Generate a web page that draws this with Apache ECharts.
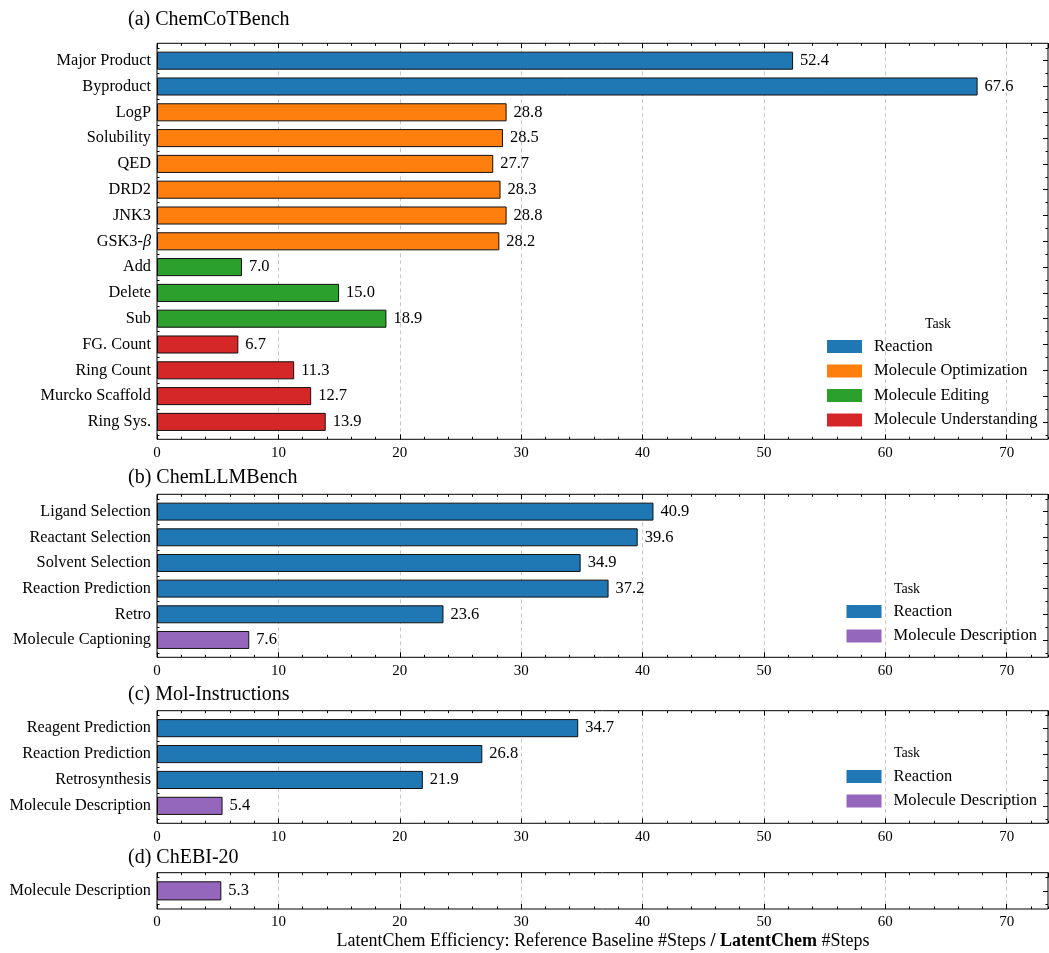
<!DOCTYPE html>
<html>
<head>
<meta charset="utf-8">
<script src="https://cdn.jsdelivr.net/npm/echarts@6/dist/echarts.min.js"></script>
<style>
  html, body { margin: 0; padding: 0; background: #fff; }
  #chart { width: 1049px; height: 953px; }
</style>
</head>
<body>
<div id="chart"></div>
<script>
// ---- data -------------------------------------------------------------
const xTickLabels = [0, 10, 20, 30, 40, 50, 60, 70];
const xMax = 73.4;

const chemcotCategories = ['Major Product', 'Byproduct', 'LogP', 'Solubility', 'QED', 'DRD2', 'JNK3', 'GSK3-β',
  'Add', 'Delete', 'Sub', 'FG. Count', 'Ring Count', 'Murcko Scaffold', 'Ring Sys.'];
const chemcotValues = [52.4, 67.6, 28.8, 28.5, 27.7, 28.3, 28.8, 28.2, 7.0, 15.0, 18.9, 6.7, 11.3, 12.7, 13.9];
const chemcotTasks = ['Reaction', 'Reaction',
  'Molecule Optimization', 'Molecule Optimization', 'Molecule Optimization',
  'Molecule Optimization', 'Molecule Optimization', 'Molecule Optimization',
  'Molecule Editing', 'Molecule Editing', 'Molecule Editing',
  'Molecule Understanding', 'Molecule Understanding', 'Molecule Understanding', 'Molecule Understanding'];

const chemllmCategories = ['Ligand Selection', 'Reactant Selection', 'Solvent Selection', 'Reaction Prediction', 'Retro', 'Molecule Captioning'];
const chemllmValues = [40.9, 39.6, 34.9, 37.2, 23.6, 7.6];
const chemllmTasks = ['Reaction', 'Reaction', 'Reaction', 'Reaction', 'Reaction', 'Molecule Description'];

const molinstCategories = ['Reagent Prediction', 'Reaction Prediction', 'Retrosynthesis', 'Molecule Description'];
const molinstValues = [34.7, 26.8, 21.9, 5.4];
const molinstTasks = ['Reaction', 'Reaction', 'Reaction', 'Molecule Description'];

const chebiCategories = ['Molecule Description'];
const chebiValues = [5.3];
const chebiTasks = ['Molecule Description'];

const taskOrder = ['Reaction', 'Molecule Optimization', 'Molecule Editing', 'Molecule Understanding', 'Molecule Description'];

// ---- styling ----------------------------------------------------------
const FONT = '"Liberation Serif", "Times New Roman", "DejaVu Serif", serif';
const taskColors = {
  'Reaction': '#1f77b4',
  'Molecule Optimization': '#ff7f0e',
  'Molecule Editing': '#2ca02c',
  'Molecule Understanding': '#d62728',
  'Molecule Description': '#9467bd'
};
const PLOT_LEFT = 157;
const PLOT_RIGHT = 1;
const PAD = 4.5;
const H = 953;

const panels = [
  { title: '(a) ChemCoTBench', cats: chemcotCategories, vals: chemcotValues, tasks: chemcotTasks,
    top: 43.3, bottom: 439.3, titleY: 20, legend: { left: 827, top: 338, taskX: 938, taskY: 324 } },
  { title: '(b) ChemLLMBench', cats: chemllmCategories, vals: chemllmValues, tasks: chemllmTasks,
    top: 494.3, bottom: 657.3, titleY: 478, legend: { left: 846.5, top: 603, taskX: 907, taskY: 589 } },
  { title: '(c) Mol-Instructions', cats: molinstCategories, vals: molinstValues, tasks: molinstTasks,
    top: 710.7, bottom: 823.3, titleY: 695, legend: { left: 846.5, top: 768, taskX: 907, taskY: 753 } },
  { title: '(d) ChEBI-20', cats: chebiCategories, vals: chebiValues, tasks: chebiTasks,
    top: 872.7, bottom: 909, titleY: 858, legend: null }
];

const grid = [], xAxis = [], yAxis = [], series = [], legend = [], graphic = [];

const tickStyle = { color: '#000', width: 1 };

function frameXAxis(gi, position, interval, len, withLabels) {
  return {
    gridIndex: gi, type: 'value', position, min: 0, max: xMax, interval,
    axisLine: { show: false, onZero: false },
    axisTick: { show: true, inside: true, length: len, lineStyle: tickStyle },
    axisLabel: withLabels ? {
      show: true, margin: 6, color: '#000', fontFamily: FONT, fontSize: 15,
      showMaxLabel: false,
      formatter: v => (xTickLabels.indexOf(v) >= 0 ? String(v) : '')
    } : { show: false },
    splitLine: withLabels ? {
      show: true, showMinLine: false, showMaxLine: false,
      lineStyle: { color: '#c8c8c8', type: [4, 3], width: 1 }
    } : { show: false }
  };
}

function catYAxis(gi, cats, position, len, align, withLabels) {
  return {
    gridIndex: gi, type: 'category', data: cats, inverse: true, position,
    axisLine: { show: false, onZero: false },
    axisTick: { show: true, inside: true, length: len, alignWithLabel: align, lineStyle: tickStyle },
    axisLabel: withLabels ? {
      show: true, margin: 6, color: '#000', fontFamily: FONT, fontSize: 16.3,
      formatter: v => v.replace('β', '{i|β}'),
      rich: { i: { fontStyle: 'italic', fontFamily: FONT, fontSize: 16.3, color: '#000' } }
    } : { show: false },
    splitLine: { show: false }
  };
}

panels.forEach((p, pi) => {
  // frame grid: border, x ticks, tick labels and dashed guides
  const fg = grid.length;
  grid.push({ left: PLOT_LEFT, right: PLOT_RIGHT, top: p.top, bottom: H - p.bottom,
    show: true, borderColor: '#000', borderWidth: 1, backgroundColor: 'transparent', z: 3 });
  xAxis.push(frameXAxis(fg, 'bottom', 10, 5, true));
  xAxis.push(frameXAxis(fg, 'bottom', 2, 2.5, false));
  xAxis.push(frameXAxis(fg, 'top', 10, 5, false));
  xAxis.push(frameXAxis(fg, 'top', 2, 2.5, false));
  yAxis.push({ gridIndex: fg, type: 'value', min: 0, max: 1, show: false });

  // bar grid: category bands inset from the frame
  const bg = grid.length;
  grid.push({ left: PLOT_LEFT, right: PLOT_RIGHT, top: p.top + PAD, bottom: H - p.bottom + PAD });
  const bx = xAxis.length;
  xAxis.push({ gridIndex: bg, type: 'value', min: 0, max: xMax, show: false });
  const by = yAxis.length;
  yAxis.push(catYAxis(bg, p.cats, 'left', 5, true, true));
  yAxis.push(catYAxis(bg, p.cats, 'left', 2.5, false, false));
  yAxis.push(catYAxis(bg, p.cats, 'right', 5, true, false));
  yAxis.push(catYAxis(bg, p.cats, 'right', 2.5, false, false));

  const used = taskOrder.filter(t => p.tasks.indexOf(t) >= 0);
  used.forEach(task => {
    series.push({
      type: 'bar', name: task, xAxisIndex: bx, yAxisIndex: by, stack: 'panel' + pi,
      barWidth: '70%',
      data: p.vals.map((v, j) => (p.tasks[j] === task ? v : '-')),
      itemStyle: { color: taskColors[task], borderColor: '#111', borderWidth: 1 },
      label: {
        show: true, position: 'right', distance: 7, color: '#000',
        fontFamily: FONT, fontSize: 16.5,
        formatter: prm => Number(prm.value).toFixed(1)
      },
      emphasis: { disabled: true },
      animation: false
    });
  });

  graphic.push({
    type: 'text', x: 128, y: p.titleY,
    style: { text: p.title, font: '20px ' + FONT, fill: '#000', textVerticalAlign: 'middle' }
  });

  if (p.legend) {
    legend.push({
      data: used, orient: 'vertical', left: p.legend.left, top: p.legend.top, padding: 0,
      itemWidth: 35, itemHeight: 13, itemGap: 7.5, icon: 'rect', selectedMode: false,
      itemStyle: { borderWidth: 0 },
      textStyle: { fontFamily: FONT, fontSize: 16.5, color: '#000', padding: [0, 0, 0, 7] }
    });
    graphic.push({
      type: 'text', x: p.legend.taskX, y: p.legend.taskY,
      style: { text: 'Task', font: '14px ' + FONT, fill: '#000', textAlign: 'center', textVerticalAlign: 'middle' }
    });
  }
});

// shared x-axis name
graphic.push({
  type: 'text', x: 603, y: 941,
  style: {
    text: 'LatentChem Efficiency: Reference Baseline #Steps {b|/ LatentChem} #Steps',
    font: '18px ' + FONT, fill: '#000', textAlign: 'center', textVerticalAlign: 'middle',
    rich: { b: { fontWeight: 'bold', fontFamily: FONT, fontSize: 18, fill: '#000' } }
  }
});

const chart = echarts.init(document.getElementById('chart'), null, { renderer: 'canvas' });
chart.setOption({
  animation: false,
  backgroundColor: '#fff',
  grid, xAxis, yAxis, series, legend, graphic
});
</script>
</body>
</html>
